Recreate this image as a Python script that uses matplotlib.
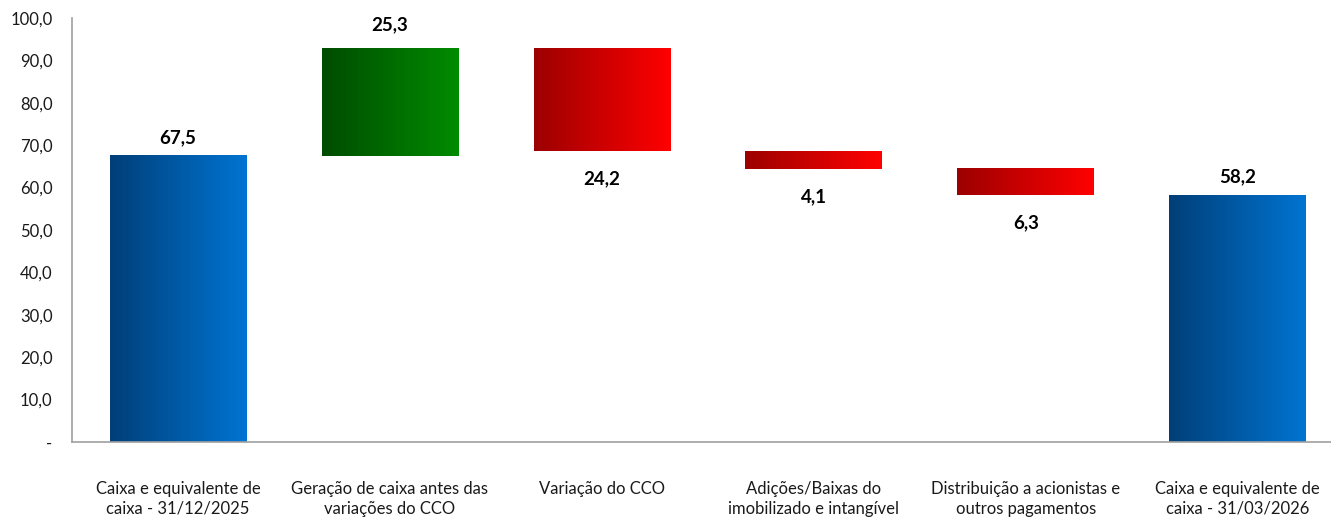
import matplotlib
matplotlib.use("Agg")
import matplotlib.pyplot as plt
import numpy as np
from matplotlib.colors import LinearSegmentedColormap

categories = ["Caixa e equivalente de\ncaixa - 31/12/2025",
              "Geração de caixa antes das\nvariações do CCO",
              "Variação do CCO",
              "Adições/Baixas do\nimobilizado e intangível",
              "Distribuição a acionistas e\noutros pagamentos",
              "Caixa e equivalente de\ncaixa - 31/03/2026"]
values = [67.5, 25.3, -24.2, -4.1, -6.3, 58.2]
kinds = ["total", "delta", "delta", "delta", "delta", "total"]
yticks = [0, 10, 20, 30, 40, 50, 60, 70, 80, 90, 100]
ytick_labels = ["-", "10,0", "20,0", "30,0", "40,0", "50,0", "60,0", "70,0", "80,0", "90,0", "100,0"]

plt.rcParams['font.family'] = ['Lato', 'DejaVu Sans']

fig = plt.figure(figsize=(13.31, 5.18), dpi=100)
ax = fig.add_axes([0.0541, 0.1467, 0.9459, 0.8186])

cmaps = {
    "blue": LinearSegmentedColormap.from_list("b", ["#003F78", "#0074D2"]),
    "green": LinearSegmentedColormap.from_list("g", ["#004C00", "#008C00"]),
    "red": LinearSegmentedColormap.from_list("r", ["#9C0000", "#FF0000"]),
}
grad = np.linspace(0, 1, 256).reshape(1, -1)
width = 0.645

running = 0.0
for i, (v, k) in enumerate(zip(values, kinds)):
    if k == "total":
        bottom, top = 0.0, v
        running = v
        cm = cmaps["blue"]
        label_y, va, off = top, "bottom", 7
    else:
        start = running
        running = running + v
        bottom, top = min(start, running), max(start, running)
        if v >= 0:
            cm = cmaps["green"]
            label_y, va, off = top, "bottom", 11
        else:
            cm = cmaps["red"]
            label_y, va, off = bottom, "top", -14
    bars = ax.bar(i, top - bottom, bottom=bottom, width=width, color="none", edgecolor="none")
    r = bars[0]
    x0, x1 = r.get_x(), r.get_x() + r.get_width()
    ax.imshow(grad, cmap=cm, aspect="auto", extent=[x0, x1, bottom, top], zorder=2)
    ax.annotate(f"{abs(v):.1f}".replace(".", ","), (i, label_y), xytext=(0, off),
                textcoords="offset points", ha="center", va=va,
                fontsize=13.5, fontweight="bold", color="black")

ax.set_xlim(-0.5, 5.44)
ax.set_ylim(0, 100)
ax.set_yticks(yticks)
ax.set_yticklabels(ytick_labels)
ax.set_xticks(range(len(categories)))
ax.set_xticklabels(categories, fontsize=12, color="#1a1a1a", linespacing=1.3)
ax.tick_params(axis="y", length=0, pad=14, labelsize=12, labelcolor="#1a1a1a")
ax.tick_params(axis="x", length=0, pad=28)
for s in ["top", "right"]:
    ax.spines[s].set_visible(False)
for s in ["left", "bottom"]:
    ax.spines[s].set_color("#A0A0A0")
    ax.spines[s].set_linewidth(1.2)

fig.savefig("out.png", dpi=100)
